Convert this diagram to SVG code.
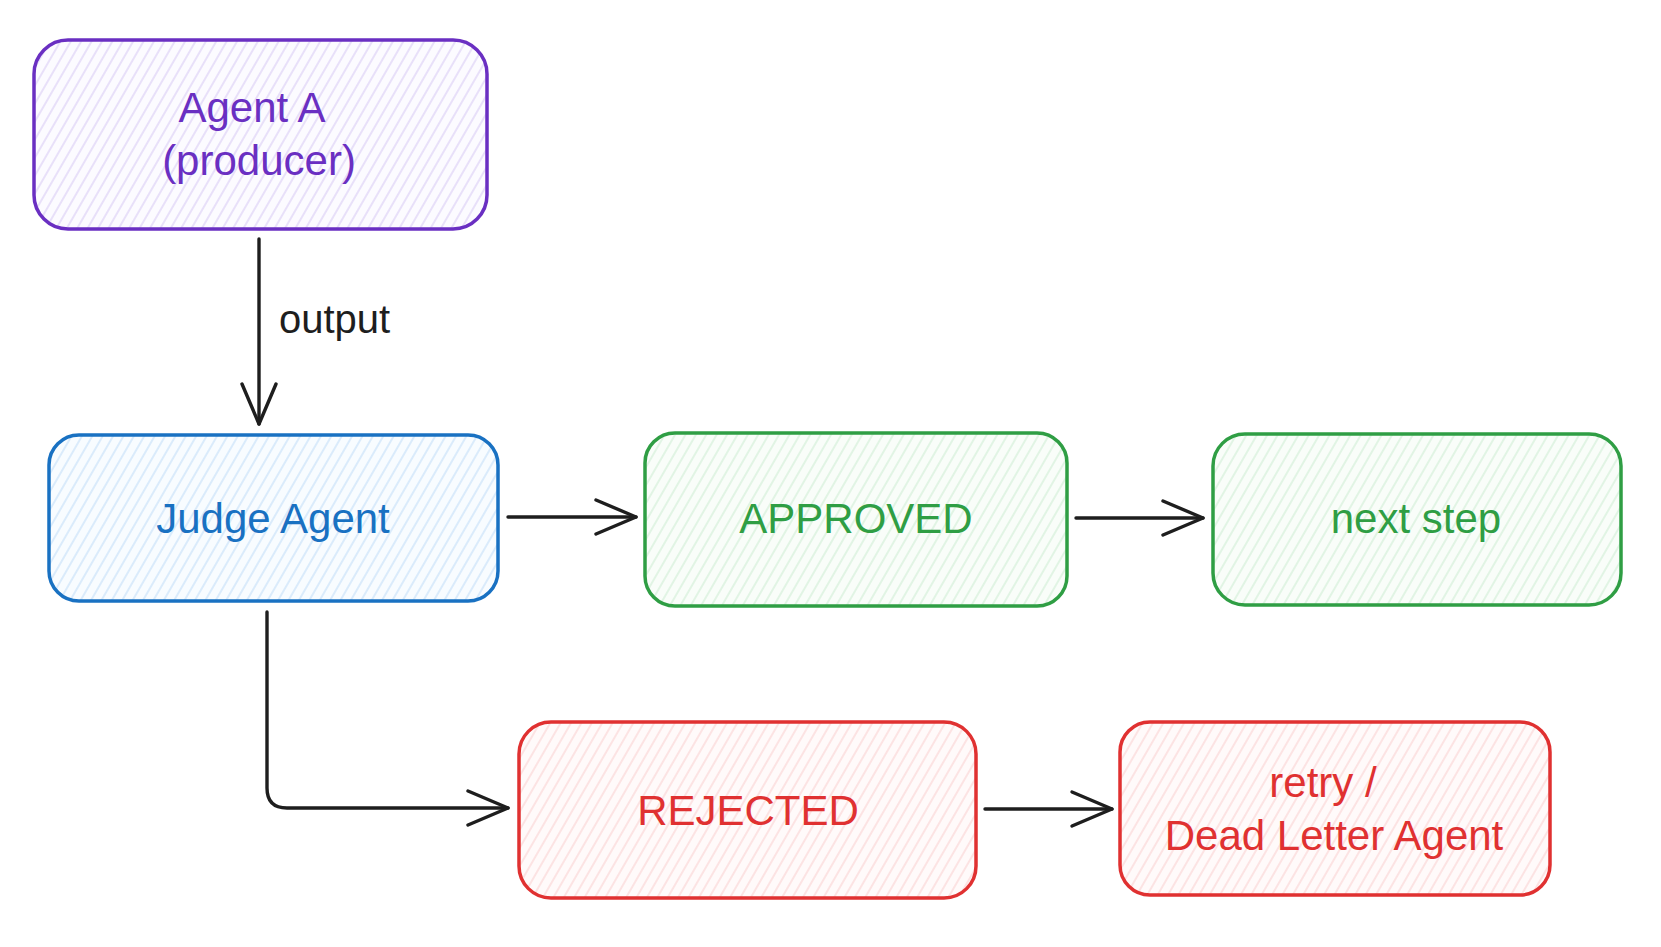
<svg xmlns="http://www.w3.org/2000/svg" width="1661" height="947" viewBox="0 0 1661 947">
<defs>
<pattern id="hPurple" width="9" height="9" patternUnits="userSpaceOnUse" patternTransform="rotate(30)"><rect width="9" height="9" fill="#fcfbff"/><line x1="1" y1="0" x2="1" y2="9" stroke="#e2d8f8" stroke-width="1.5"/></pattern>
<pattern id="hBlue" width="9" height="9" patternUnits="userSpaceOnUse" patternTransform="rotate(30)"><rect width="9" height="9" fill="#f8fcff"/><line x1="1" y1="0" x2="1" y2="9" stroke="#d0e6fa" stroke-width="1.5"/></pattern>
<pattern id="hGreen" width="9" height="9" patternUnits="userSpaceOnUse" patternTransform="rotate(30)"><rect width="9" height="9" fill="#f9fdf9"/><line x1="1" y1="0" x2="1" y2="9" stroke="#d9f2dd" stroke-width="1.5"/></pattern>
<pattern id="hRed" width="9" height="9" patternUnits="userSpaceOnUse" patternTransform="rotate(30)"><rect width="9" height="9" fill="#fffafa"/><line x1="1" y1="0" x2="1" y2="9" stroke="#fcdcdc" stroke-width="1.5"/></pattern>
<marker id="arrow" viewBox="-44 -20 48 40" refX="0" refY="0" markerWidth="48" markerHeight="40" markerUnits="userSpaceOnUse" orient="auto">
<path d="M -40 -17 L 0 0 L -40 17" fill="none" stroke="#1e1e1e" stroke-width="3.4" stroke-linecap="round" stroke-linejoin="round"/>
</marker>
</defs>
<style>
.box{stroke-width:3.5}
.lbl{font-family:"Liberation Sans",Arial,sans-serif;font-size:42px;text-anchor:middle}
.conn{fill:none;stroke:#1e1e1e;stroke-width:3.4;stroke-linecap:round;marker-end:url(#arrow)}
.edge{font-family:"Liberation Sans",Arial,sans-serif;font-size:40px;fill:#1e1e1e}
</style>
<rect width="1661" height="947" fill="#ffffff"/>
<g id="agentA">
<rect class="box" x="34" y="40" width="453" height="189" rx="34" fill="url(#hPurple)" stroke="#6a2fc2"/>
<text class="lbl" x="252" y="122" fill="#6a2fc2">Agent A</text>
<text class="lbl" x="259" y="175" fill="#6a2fc2">(producer)</text>
</g>
<g id="judge">
<rect class="box" x="49" y="435" width="449" height="166" rx="30" fill="url(#hBlue)" stroke="#1971c2"/>
<text class="lbl" x="273" y="533" fill="#1971c2">Judge Agent</text>
</g>
<g id="approved">
<rect class="box" x="645" y="433" width="422" height="173" rx="30" fill="url(#hGreen)" stroke="#2f9e44"/>
<text class="lbl" x="856" y="533" fill="#2f9e44">APPROVED</text>
</g>
<g id="nextstep">
<rect class="box" x="1213" y="434" width="408" height="171" rx="32" fill="url(#hGreen)" stroke="#2f9e44"/>
<text class="lbl" x="1416" y="533" fill="#2f9e44">next step</text>
</g>
<g id="rejected">
<rect class="box" x="519" y="722" width="457" height="176" rx="32" fill="url(#hRed)" stroke="#e03131"/>
<text class="lbl" x="748" y="825" fill="#e03131">REJECTED</text>
</g>
<g id="retry">
<rect class="box" x="1120" y="722" width="430" height="173" rx="30" fill="url(#hRed)" stroke="#e03131"/>
<text class="lbl" x="1323" y="797" fill="#e03131">retry /</text>
<text class="lbl" x="1334" y="850" fill="#e03131">Dead Letter Agent</text>
</g>
<g id="connectors">
<path class="conn" d="M 259 239 L 259 424"/>
<text class="edge" x="279" y="333">output</text>
<path class="conn" d="M 508 517 L 636 517"/>
<path class="conn" d="M 1076 518 L 1203 518"/>
<path class="conn" d="M 267 612 L 267 788 Q 267 808 287 808 L 508 808"/>
<path class="conn" d="M 985 809 L 1112 809"/>
</g>
</svg>
